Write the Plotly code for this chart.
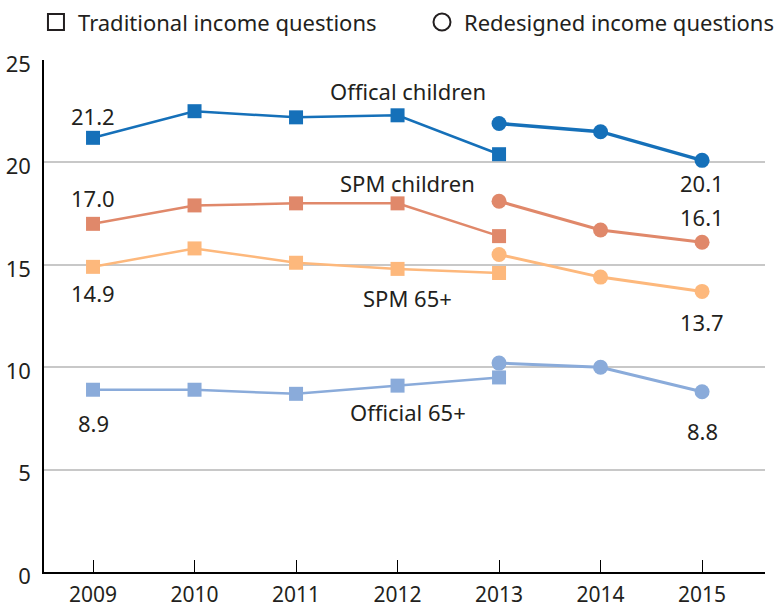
import plotly.graph_objects as go

years_trad = [2009, 2010, 2011, 2012, 2013]
years_new = [2013, 2014, 2015]

off_child_trad = [21.2, 22.5, 22.2, 22.3, 20.4]
off_child_new = [21.9, 21.5, 20.1]
spm_child_trad = [17.0, 17.9, 18.0, 18.0, 16.4]
spm_child_new = [18.1, 16.7, 16.1]
spm_65_trad = [14.9, 15.8, 15.1, 14.8, 14.6]
spm_65_new = [15.5, 14.4, 13.7]
off_65_trad = [8.9, 8.9, 8.7, 9.1, 9.5]
off_65_new = [10.2, 10.0, 8.8]

series_names = ["Offical children", "SPM children", "SPM 65+", "Official 65+"]
series_name_y = [23.5, 19.0, 13.4, 7.8]
colors = ["#1570b9", "#e0886a", "#fdb87c", "#8aabda"]

legend_labels = ["Traditional income questions", "Redesigned income questions"]

y_ticks = [0, 5, 10, 15, 20, 25]
x_ticks = [2009, 2010, 2011, 2012, 2013, 2014, 2015]

FONT = "Noto Sans"
TXT = "#231f20"
FS = 22

fig = go.Figure()

trad = [off_child_trad, spm_child_trad, spm_65_trad, off_65_trad]
new = [off_child_new, spm_child_new, spm_65_new, off_65_new]

for vals, col in zip(trad, colors):
    fig.add_trace(go.Scatter(x=years_trad, y=vals, mode="lines+markers",
                             line=dict(color=col, width=2.5),
                             marker=dict(symbol="square", size=14, color=col),
                             showlegend=False, hoverinfo="skip"))
for i, (vals, col) in enumerate(zip(new, colors)):
    fig.add_trace(go.Scatter(x=years_new, y=vals, mode="lines+markers",
                             line=dict(color=col, width=3.5 if i == 0 else 3),
                             marker=dict(symbol="circle", size=15, color=col),
                             showlegend=False, hoverinfo="skip"))

ann = []
for name, yv in zip(series_names, series_name_y):
    ann.append(dict(x=2012.1, y=yv, text=name, showarrow=False,
                    font=dict(family=FONT, size=FS, color=TXT)))

# endpoint value labels
val_labels = [
    (2009, off_child_trad[0], 22),
    (2009, spm_child_trad[0], 26),
    (2009, spm_65_trad[0], -26),
    (2009, off_65_trad[0], -33),
    (2015, off_child_new[-1], -23),
    (2015, spm_child_new[-1], 25),
    (2015, spm_65_new[-1], -31),
    (2015, off_65_new[-1], -39),
]
for xv, yv, ys in val_labels:
    ann.append(dict(x=xv, y=yv, text=f"{yv:.1f}", showarrow=False, yshift=ys,
                    font=dict(family=FONT, size=FS, color=TXT)))

# manual legend (paper coords)
leg_y = 1.0742
leg_sym_x = [0.0166, 0.552]
leg_txt_x = [0.0444, 0.5798]
for lbl, tx in zip(legend_labels, leg_txt_x):
    ann.append(dict(x=tx, y=leg_y, xref="paper", yref="paper", text=lbl,
                    showarrow=False, xanchor="left", yanchor="middle",
                    font=dict(family=FONT, size=FS, color=TXT)))
shapes = [
    dict(type="rect", xref="paper", yref="paper", xsizemode="pixel", ysizemode="pixel",
         xanchor=leg_sym_x[0], yanchor=leg_y, x0=-8, x1=8, y0=-8, y1=8,
         line=dict(color=TXT, width=2), fillcolor="rgba(0,0,0,0)"),
    dict(type="circle", xref="paper", yref="paper", xsizemode="pixel", ysizemode="pixel",
         xanchor=leg_sym_x[1], yanchor=leg_y, x0=-8.5, x1=8.5, y0=-8.5, y1=8.5,
         line=dict(color=TXT, width=2), fillcolor="rgba(0,0,0,0)"),
]

fig.update_layout(
    width=775, height=610,
    margin=dict(l=44, r=10, t=60, b=38, autoexpand=False),
    paper_bgcolor="white", plot_bgcolor="white",
    font=dict(family=FONT, size=FS, color=TXT),
    showlegend=False,
    annotations=ann,
    shapes=shapes,
)

fig.update_xaxes(range=[2008.517, 2015.62], tickmode="array", tickvals=x_ticks,
                 ticktext=[str(v) for v in x_ticks],
                 showline=True, linecolor="black", linewidth=1.5,
                 ticks="inside", ticklen=12, tickcolor="black", tickwidth=1,
                 showgrid=False, zeroline=False, ticklabelstandoff=3,
                 tickfont=dict(family=FONT, size=21, color=TXT))
fig.update_yaxes(range=[0, 25], tickmode="array", tickvals=y_ticks,
                 showline=True, linecolor="black", linewidth=1.5,
                 showgrid=True, gridcolor="#c8c8c8", gridwidth=1.5,
                 zeroline=False, ticks="", ticklabelstandoff=7, ticklabelshift=4,
                 tickfont=dict(family=FONT, size=FS, color=TXT))

fig.write_html("out.html", config={"displayModeBar": False},
               post_script="document.body.style.margin='0';document.body.style.overflow='hidden';")
